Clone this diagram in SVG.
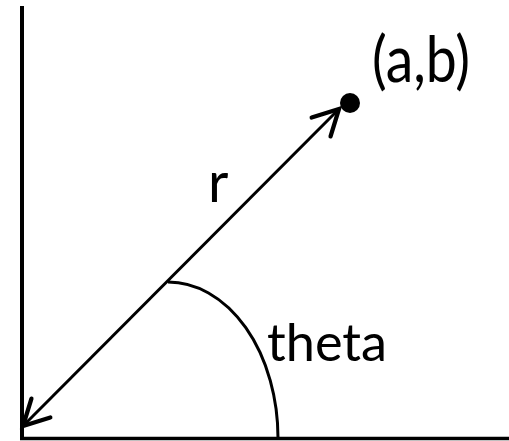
<svg xmlns="http://www.w3.org/2000/svg" width="509" height="441" viewBox="0 0 509 441">
<style>
.ln{stroke:#000;fill:none;stroke-linecap:butt}
.t{font-family:Lato,"Open Sans",sans-serif;fill:#000}
</style>
<defs>
<marker id="ah" markerUnits="userSpaceOnUse" markerWidth="40" markerHeight="40" viewBox="-25 -15 30 30" refX="0" refY="0" orient="auto-start-reverse" overflow="visible">
<path d="M-19,-10 L0,0 L-19,10" fill="none" stroke="#000" stroke-width="3.2" stroke-linecap="round" stroke-linejoin="miter"/>
</marker>
</defs>
<g id="axes">
<line class="ln" x1="22" y1="6" x2="22" y2="440" stroke-width="4"/>
<line class="ln" x1="20" y1="438.5" x2="509" y2="438.5" stroke-width="3.5"/>
</g>
<g id="connectors">
<line class="ln" x1="23" y1="426" x2="339" y2="109" stroke-width="3" marker-start="url(#ah)" marker-end="url(#ah)"/>
<path id="angle-arc" class="ln" d="M168,282 A110,156 0 0 1 278,438" stroke-width="3"/>
</g>
<g id="point">
<circle cx="350" cy="103" r="10" fill="#000"/>
<text class="t" x="372" y="82" font-size="64" textLength="98" lengthAdjust="spacingAndGlyphs">(a,b)</text>
</g>
<g id="r-label"><text class="t" x="208" y="202" font-size="56">r</text></g>
<g id="theta-label"><text class="t" x="267" y="361" font-size="53" textLength="120" lengthAdjust="spacingAndGlyphs">theta</text></g>
</svg>
